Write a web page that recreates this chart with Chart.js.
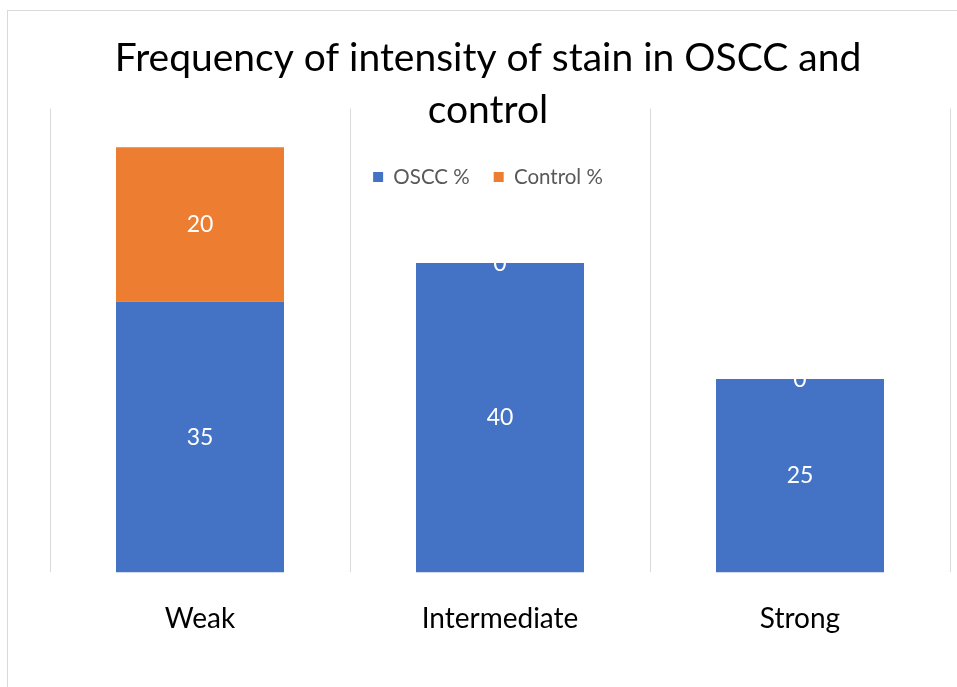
<!DOCTYPE html>
<html>
<head>
<meta charset="utf-8">
<script src="https://cdn.jsdelivr.net/npm/chart.js@4/dist/chart.umd.min.js"></script>
<style>
  html, body { margin: 0; padding: 0; background: #ffffff; }
  #wrap { position: relative; width: 957px; height: 687px; overflow: hidden; }
  #frame { position: absolute; left: 7px; top: 10px; width: 980px; height: 700px;
           border: 1px solid #d9d9d9; box-sizing: border-box; }
  #box { position: absolute; left: 0; top: 0; width: 957px; height: 687px; }
</style>
</head>
<body>
<div id="wrap">
  <div id="frame"></div>
  <div id="box"><canvas id="chart"></canvas></div>
</div>
<script>
// Stain intensity groups and percentages per group
const categories = ['Weak', 'Intermediate', 'Strong'];
const oscc = [35, 40, 25];
const control = [20, 0, 0];
const seriesNames = ['OSCC %', 'Control %'];
const titleLines = ['Frequency of intensity of stain in OSCC and', 'control'];

const FONT = 'Lato, "Open Sans", sans-serif';
const LEGEND_FONT_SIZE = 20.5;
const LEGEND_PADDING = 24;
const LEGEND_CENTER_Y = 177;

// Writes each segment's value in the middle of its bar piece
const segmentValues = {
  id: 'segmentValues',
  afterDatasetsDraw(chart) {
    const ctx = chart.ctx;
    ctx.save();
    ctx.fillStyle = '#ffffff';
    ctx.font = '23px ' + FONT;
    ctx.textAlign = 'center';
    ctx.textBaseline = 'middle';
    chart.data.datasets.forEach((ds, i) => {
      const meta = chart.getDatasetMeta(i);
      meta.data.forEach((bar, j) => {
        const yMid = (bar.y + bar.base) / 2;
        ctx.fillText(String(ds.data[j]), bar.x, yMid);
      });
    });
    ctx.restore();
  }
};

// Moves the legend row down so it sits inside the plot, below the title
const legendInPlot = {
  id: 'legendInPlot',
  afterLayout(chart) {
    const lg = chart.legend;
    if (!lg) return;
    const current = lg.top + LEGEND_PADDING + LEGEND_FONT_SIZE / 2;
    const dy = LEGEND_CENTER_Y - current;
    lg.top += dy;
    lg.bottom += dy;
  }
};

new Chart(document.getElementById('chart'), {
  type: 'bar',
  data: {
    labels: categories,
    datasets: [
      { label: seriesNames[0], data: oscc, backgroundColor: '#4472C4' },
      { label: seriesNames[1], data: control, backgroundColor: '#ED7D31' }
    ]
  },
  options: {
    responsive: true,
    maintainAspectRatio: false,
    animation: false,
    layout: { padding: { left: 26, right: 7, top: 0, bottom: 21 } },
    datasets: { bar: { categoryPercentage: 1, barPercentage: 0.56 } },
    scales: {
      x: {
        stacked: true,
        grid: { offset: true, color: '#d9d9d9', lineWidth: 1, drawTicks: false },
        border: { display: false },
        ticks: { color: '#000000', font: { family: FONT, size: 28 }, padding: 30, maxRotation: 0 }
      },
      y: {
        stacked: true,
        min: 0,
        max: 60,
        grid: { display: false, drawTicks: false },
        border: { display: false },
        ticks: { display: false },
        afterFit(scale) { scale.width = 24; }
      }
    },
    plugins: {
      title: {
        display: true,
        text: titleLines,
        color: '#000000',
        font: { family: FONT, size: 39, weight: 'normal', lineHeight: 1.333 },
        padding: { top: 32, bottom: -82 }
      },
      legend: {
        position: 'top',
        align: 'center',
        labels: {
          boxWidth: 10,
          boxHeight: 10,
          padding: LEGEND_PADDING,
          color: '#595959',
          font: { family: FONT, size: LEGEND_FONT_SIZE }
        }
      },
      tooltip: { enabled: false }
    }
  },
  plugins: [segmentValues, legendInPlot]
});
</script>
</body>
</html>
